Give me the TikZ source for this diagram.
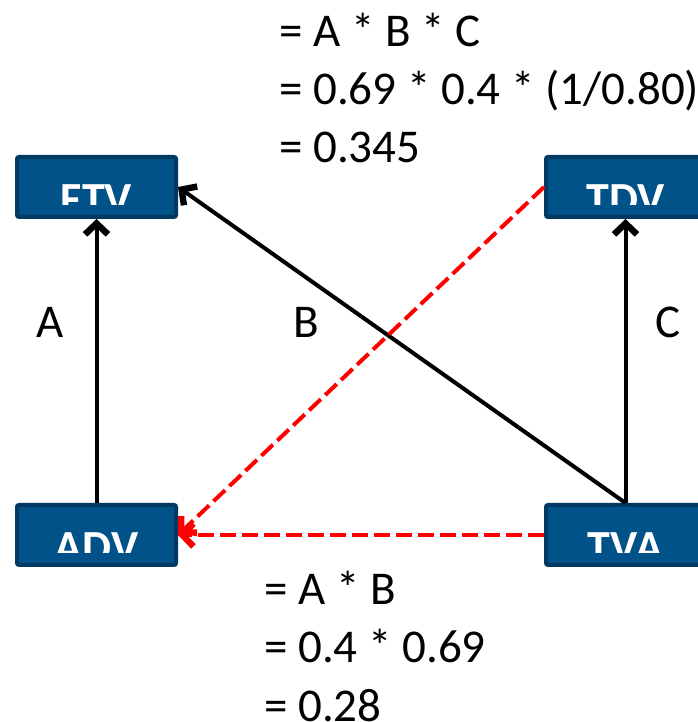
\documentclass[tikz,border=0pt]{standalone}
\usepackage{fontspec}
\setmainfont{Carlito}
\usetikzlibrary{arrows.meta}

\definecolor{boxblue}{RGB}{0,82,137}
\definecolor{boxrim}{RGB}{0,58,99}
\definecolor{pathred}{RGB}{255,0,0}

\tikzset{
  varbox/.style={draw=boxrim, fill=boxblue, line width=4pt, rounded corners=2pt,
    minimum width=159pt, minimum height=60pt, inner sep=0pt,
    path picture={
      \clip ([yshift=12pt]path picture bounding box.south west) rectangle (path picture bounding box.north east);
      \node[anchor=north, inner sep=0pt, minimum width=0pt, minimum height=0pt,
        text=white, font=\fontsize{46}{53}\selectfont\bfseries]
        at ([yshift=-26pt]path picture bounding box.north) {#1};
    }},
  blkarrow/.style={draw=black, line width=4pt,
    -{Straight Barb[length=11pt,width=23pt,line width=0pt 1.6]}},
  redarrow/.style={draw=pathred, line width=4pt, dash pattern=on 16pt off 6pt,
    -{Straight Barb[length=11pt,width=23pt,line width=0pt 1.6]}},
  eqn/.style={align=left, inner sep=0pt, font=\fontsize{47}{58}\selectfont},
  lbl/.style={inner sep=0pt, font=\fontsize{47}{53}\selectfont}
}

\begin{document}
\begin{tikzpicture}[x=1pt,y=1pt]
\useasboundingbox (0,0) rectangle (697,722);

% the four variables
\node[varbox=FTV] (ftv) at (96.5,535) {};
\node[varbox=TDV] (tdv) at (625.5,535) {};
\node[varbox=ADV] (adv) at (96.5,187) {};
\node[varbox=TVA] (tva) at (625.5,187) {};

% direct paths
\draw[blkarrow] (adv) -- (ftv);
\draw[blkarrow] (tva) -- (tdv);
\draw[blkarrow] (tva.north) -- (ftv.east);

% implied paths
\draw[redarrow] (tdv.west) -- (adv.east);
\draw[redarrow] (tva.west) -- (adv.east);

\node[lbl] (la) at (50,400) {A};
\node[lbl] (lb) at (306,400) {B};
\node[lbl] (lc) at (668,400) {C};

% base anchor sits on the last line
\node[eqn, anchor=base west] (topcalc) at (279,559) {= A * B * C\\= 0.69 * 0.4 * (1/0.80)\\= 0.345};
\node[eqn, anchor=base west] (botcalc) at (264,1) {= A * B\\= 0.4 * 0.69\\= 0.28};
\end{tikzpicture}
\end{document}
